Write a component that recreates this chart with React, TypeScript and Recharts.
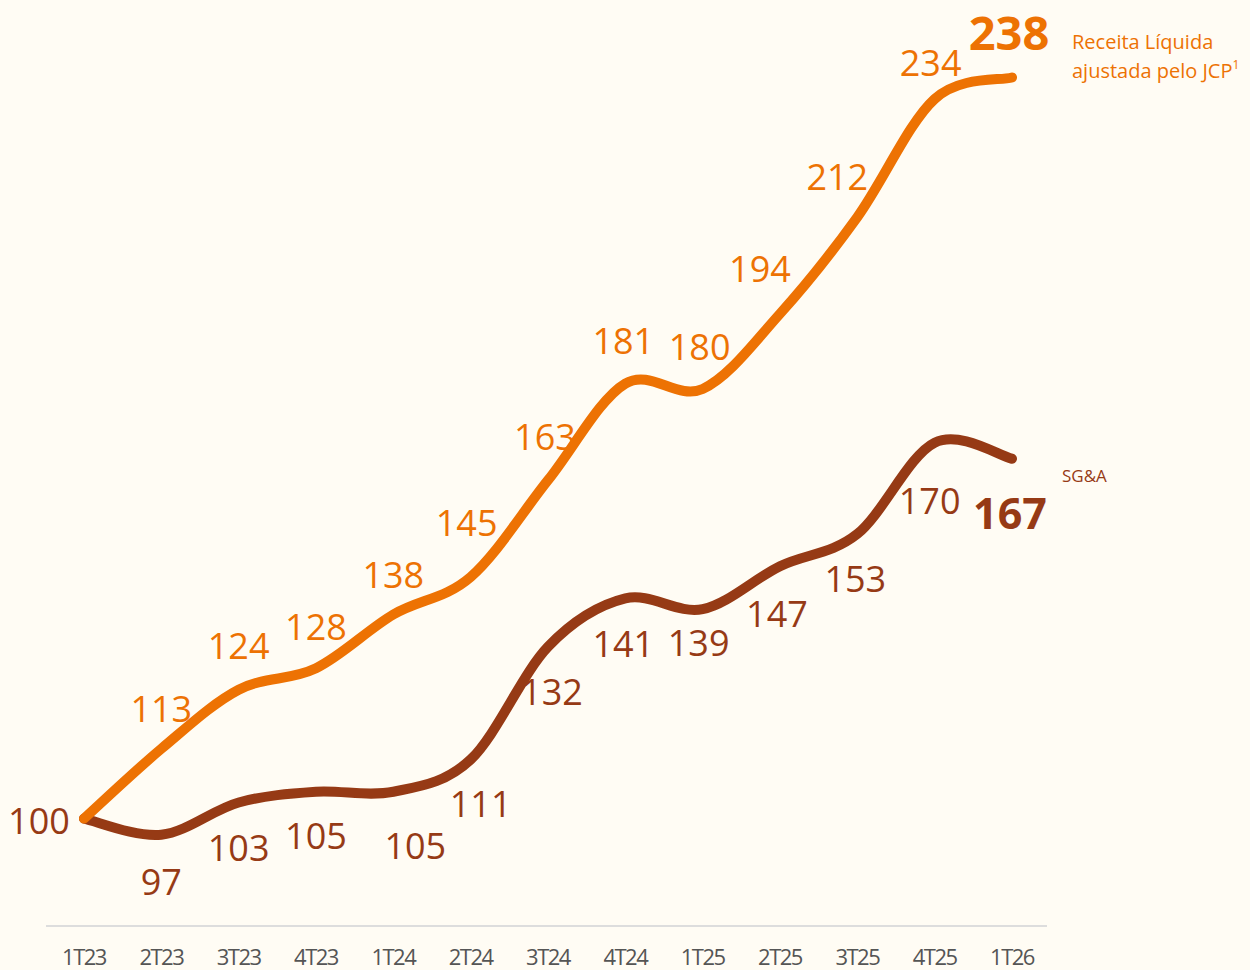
import React from 'react';
import { LineChart, Line, XAxis, YAxis, LabelList } from 'recharts';

const quarters = ['1T23', '2T23', '3T23', '4T23', '1T24', '2T24', '3T24', '4T24', '1T25', '2T25', '3T25', '4T25', '1T26'];
const receita = [100, 113, 124, 128, 138, 145, 163, 181, 180, 194, 212, 234, 238];
const sga = [100, 97, 103, 105, 105, 111, 132, 141, 139, 147, 153, 170, 167];

const data = quarters.map((q, i) => ({ q, receita: receita[i], sga: sga[i] }));

const ORANGE = '#ED7203';
const BROWN = '#963A15';
const BG = '#FFFCF4';
const FONT = '"Open Sans", sans-serif';

// label offsets from the point (dx, dy)
const receitaOffsets = [
  null, [0, -40], [0, -44], [0, -42], [0, -40], [-4, -54], [-3, -44],
  [-2, -43], [-3, -42], [-20, -45], [-20, -41], [-4, -36], [-3, -45],
];
const sgaOffsets = [
  [-45, 2], [0, 47], [0, 45], [0, 44], [22, 54], [10, 44], [4, 45],
  [-2, 45], [-4, 33], [-3, 47], [-2, 45], [-5, 58], [-2, 54],
];

// simple catmull-rom curve, the lines in the original look like this
const catmullRom = (context: any) => {
  let pts: number[][] = [];
  return {
    areaStart() {},
    areaEnd() {},
    lineStart() {
      pts = [];
    },
    point(x: number, y: number) {
      pts.push([+x, +y]);
    },
    lineEnd() {
      const n = pts.length;
      if (!n) return;
      context.moveTo(pts[0][0], pts[0][1]);
      for (let i = 0; i < n - 1; i++) {
        const p0 = pts[Math.max(i - 1, 0)];
        const p1 = pts[i];
        const p2 = pts[i + 1];
        const p3 = pts[Math.min(i + 2, n - 1)];
        context.bezierCurveTo(
          p1[0] + (p2[0] - p0[0]) / 6,
          p1[1] + (p2[1] - p0[1]) / 6,
          p2[0] - (p3[0] - p1[0]) / 6,
          p2[1] - (p3[1] - p1[1]) / 6,
          p2[0],
          p2[1],
        );
      }
    },
  };
};

const makeLabel = (offsets: any[], color: string) => (props: any) => {
  const { x, y, index, value } = props;
  const off = offsets[index];
  if (!off) return null;
  const last = index === quarters.length - 1;
  return (
    <text
      x={x + off[0]}
      y={y + off[1]}
      textAnchor="middle"
      dominantBaseline="central"
      fill={color}
      fontFamily={FONT}
      fontSize={last ? (color === ORANGE ? 47 : 43) : 36}
      fontWeight={last ? 700 : 400}
    >
      {value}
    </text>
  );
};

const renderTick = (props: any) => {
  const { x, y, payload } = props;
  return (
    <text x={x} y={y + 22} textAnchor="middle" dominantBaseline="central" fill="#555" fontFamily={FONT} fontSize={22} letterSpacing={-1.5}>
      {payload.value}
    </text>
  );
};

export default function App() {
  return (
    <div style={{ position: 'absolute', top: 0, left: 0, width: 1250, height: 970, background: BG, fontFamily: FONT }}>
      <LineChart width={1250} height={970} data={data} margin={{ top: 13, right: 203, left: 46, bottom: 0 }}>
        <XAxis
          dataKey="q"
          height={44}
          padding={{ left: 38, right: 35 }}
          axisLine={{ stroke: '#DDDDDD', strokeWidth: 2 }}
          tickLine={false}
          tick={renderTick}
          interval={0}
        />
        <YAxis hide domain={[80, 250]} />
        <Line
          type={catmullRom as any}
          dataKey="sga"
          stroke={BROWN}
          strokeWidth={10}
          strokeLinecap="round"
          dot={false}
          activeDot={false}
          isAnimationActive={false}
        >
          <LabelList dataKey="sga" content={makeLabel(sgaOffsets, BROWN)} />
        </Line>
        <Line
          type={catmullRom as any}
          dataKey="receita"
          stroke={ORANGE}
          strokeWidth={10}
          strokeLinecap="round"
          dot={false}
          activeDot={false}
          isAnimationActive={false}
        >
          <LabelList dataKey="receita" content={makeLabel(receitaOffsets, ORANGE)} />
        </Line>
      </LineChart>
      <div style={{ position: 'absolute', left: 1072, top: 27, color: ORANGE, fontSize: 20, lineHeight: '29px', whiteSpace: 'nowrap' }}>
        Receita Líquida
        <br />
        ajustada pelo JCP<sup style={{ fontSize: 12, verticalAlign: 'top', lineHeight: '18px' }}>1</sup>
      </div>
      <div style={{ position: 'absolute', left: 1062, top: 464, color: BROWN, fontSize: 17, whiteSpace: 'nowrap' }}>
        SG&amp;A
      </div>
    </div>
  );
}
